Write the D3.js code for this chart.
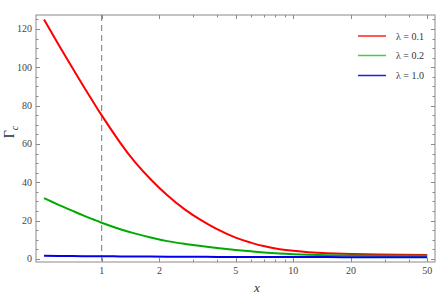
<!DOCTYPE html>
<html><head><meta charset="utf-8">
<script src="https://cdn.jsdelivr.net/npm/d3@7"></script>
<style>body{margin:0;background:#fff}svg{display:block}</style>
</head><body>
<script>
const xs    = [0.5,0.6,0.7,0.8,0.9,1,1.25,1.5,1.8,2.2,2.7,3.3,4,5,6,7,8.5,10,12,15,20,28,50];
const red   = [125,111.3,100,90.4,82.2,74.9,60.6,50.3,41.6,33.2,26.0,20.2,15.5,11.1,8.5,6.7,5.1,4.25,3.55,3.0,2.62,2.32,2.05];
const green = [31.7,28.1,25.2,22.7,20.7,18.9,15.5,13.2,11.2,9.3,7.9,6.7,5.7,4.7,4.0,3.4,2.8,2.45,2.15,1.95,1.8,1.7,1.6];
const blue  = [1.6,1.55,1.5,1.46,1.42,1.38,1.32,1.27,1.22,1.18,1.14,1.1,1.07,1.04,1.02,1.0,0.98,0.97,0.96,0.95,0.94,0.93,0.92];
const seriesNames = ["λ = 0.1","λ = 0.2","λ = 1.0"];
const seriesColors = ["#ff0000","#00aa00","#0000ee"];
const legendColors = ["#ff2020","#44cc44","#2020dd"];
const xMajor = [1,2,5,10,20,50];
const xMinor = [3,4,6,7,8,9,30,40];
const yMajor = [0,20,40,60,80,100,120];

const W=436,H=296;
const L=36,R=435,T=15,B=262;
const svg=d3.select("body").append("svg").attr("width",W).attr("height",H);
const x=d3.scaleLog().domain([0.454,54.9]).range([L,R]);
const y=d3.scaleLinear().domain([-1.6,127.3]).range([B,T]);
const yMinor=d3.range(0,126,5).filter(v=>v%20!==0);
const axc="#8a8a8a";
const font="'Liberation Serif','Times New Roman',serif";

svg.append("rect").attr("x",L).attr("y",T).attr("width",R-L).attr("height",B-T)
  .attr("fill","none").attr("stroke",axc).attr("stroke-width",1);

const g=svg.append("g");
xMajor.forEach(v=>{
  const px=Math.round(x(v))+0.5;
  g.append("line").attr("x1",px).attr("x2",px).attr("y1",B).attr("y2",B-4).attr("stroke",axc);
  g.append("line").attr("x1",px).attr("x2",px).attr("y1",T).attr("y2",T+4).attr("stroke",axc);
  g.append("text").attr("x",x(v)).attr("y",B+12).attr("text-anchor","middle")
   .attr("font-family",font).attr("font-size",10).attr("fill","#444").text(v);
});
xMinor.forEach(v=>{
  const px=Math.round(x(v))+0.5;
  g.append("line").attr("x1",px).attr("x2",px).attr("y1",B).attr("y2",B-2.5).attr("stroke",axc);
  g.append("line").attr("x1",px).attr("x2",px).attr("y1",T).attr("y2",T+2.5).attr("stroke",axc);
});
yMajor.forEach(v=>{
  const py=Math.round(y(v))+0.5;
  g.append("line").attr("x1",L).attr("x2",L+4).attr("y1",py).attr("y2",py).attr("stroke",axc);
  g.append("line").attr("x1",R).attr("x2",R-4).attr("y1",py).attr("y2",py).attr("stroke",axc);
  g.append("text").attr("x",L-4).attr("y",y(v)+3.5).attr("text-anchor","end")
   .attr("font-family",font).attr("font-size",10).attr("fill","#444").text(v);
});
yMinor.forEach(v=>{
  const py=Math.round(y(v))+0.5;
  g.append("line").attr("x1",L).attr("x2",L+2.5).attr("y1",py).attr("y2",py).attr("stroke",axc);
  g.append("line").attr("x1",R).attr("x2",R-2.5).attr("y1",py).attr("y2",py).attr("stroke",axc);
});

svg.append("line").attr("x1",x(1)).attr("x2",x(1)).attr("y1",T).attr("y2",B)
  .attr("stroke","#777").attr("stroke-width",1).attr("stroke-dasharray","6,4");

const line=d3.line().x(d=>x(d[0])).y(d=>y(d[1])).curve(d3.curveNatural);
[red,green,blue].forEach((s,i)=>{
  svg.append("path").datum(xs.map((v,j)=>[v,s[j]])).attr("d",line)
    .attr("fill","none").attr("stroke",seriesColors[i]).attr("stroke-width",2);
});

const ly=[36,55.5,75.5];
seriesNames.forEach((n,i)=>{
  svg.append("line").attr("x1",358).attr("x2",386).attr("y1",ly[i]).attr("y2",ly[i])
    .attr("stroke",legendColors[i]).attr("stroke-width",1.5);
  svg.append("text").attr("x",396).attr("y",ly[i]+3.5).attr("font-family",font)
    .attr("font-size",10).attr("fill","#333").text(n);
});

svg.append("text").attr("x",257).attr("y",292).attr("text-anchor","middle")
  .attr("font-family",font).attr("font-size",13).attr("font-style","italic").attr("fill","#333").text("x");
const yl=svg.append("text").attr("transform","translate(14,132) rotate(-90)")
  .attr("text-anchor","middle").attr("font-family",font).attr("font-size",14).attr("fill","#333");
yl.append("tspan").text("Γ");
yl.append("tspan").attr("font-style","italic").attr("font-size",10).attr("dy",4).text("c");
</script>
</body></html>
